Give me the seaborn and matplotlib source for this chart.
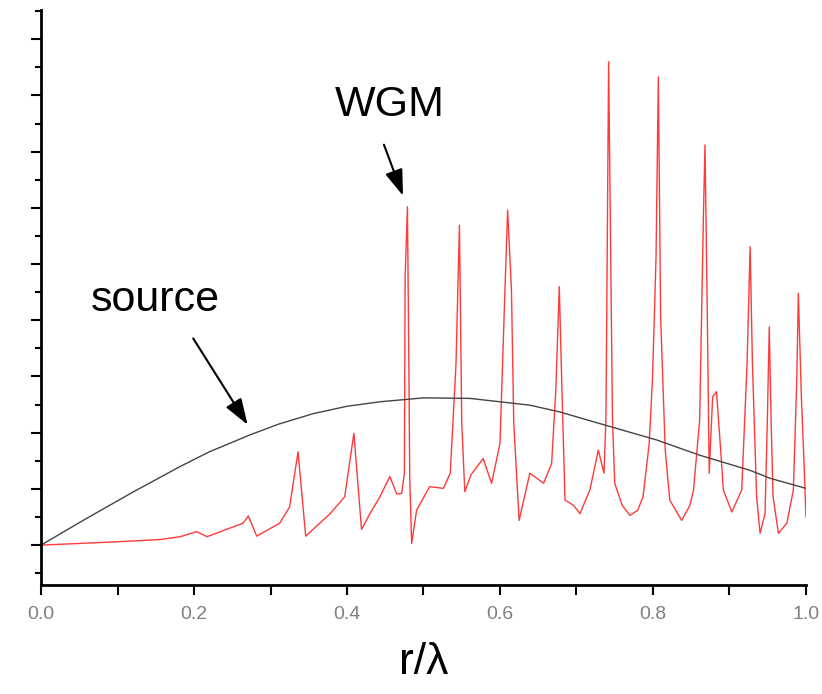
import matplotlib
matplotlib.use("Agg")
import matplotlib.pyplot as plt
import seaborn as sns
import pandas as pd
from matplotlib.ticker import MultipleLocator

# ---- data ----
wgm_x = [0.000, 0.050, 0.100, 0.156, 0.182, 0.2035, 0.217, 0.264, 0.271, 0.282,
         0.312, 0.325, 0.336, 0.346, 0.378, 0.397, 0.409, 0.419, 0.430, 0.443,
         0.456, 0.465, 0.4715, 0.475, 0.476, 0.479, 0.481, 0.482, 0.4845, 0.491,
         0.508, 0.526, 0.535, 0.5425, 0.547, 0.550, 0.554, 0.562, 0.578, 0.589,
         0.600, 0.6065, 0.610, 0.615, 0.618, 0.625, 0.639, 0.657, 0.6675, 0.673,
         0.6775, 0.681, 0.685, 0.696, 0.7045, 0.7175, 0.7285, 0.736, 0.7385, 0.740,
         0.742, 0.745, 0.747, 0.750, 0.760, 0.770, 0.780, 0.787, 0.795, 0.7995,
         0.804, 0.807, 0.810, 0.816, 0.822, 0.8375, 0.848, 0.853, 0.861, 0.866,
         0.868, 0.871, 0.8735, 0.878, 0.883, 0.8885, 0.892, 0.903, 0.916, 0.923,
         0.927, 0.930, 0.9355, 0.940, 0.9465, 0.9495, 0.952, 0.9545, 0.957, 0.964,
         0.975, 0.9835, 0.988, 0.990, 0.994, 0.9975, 1.000]
wgm_y = [0.00, 0.03, 0.06, 0.10, 0.15, 0.24, 0.15, 0.39, 0.52, 0.16,
         0.39, 0.68, 1.66, 0.16, 0.56, 0.86, 1.99, 0.28, 0.56, 0.86,
         1.22, 0.91, 0.92, 1.28, 4.77, 6.02, 3.00, 1.22, 0.03, 0.62,
         1.04, 1.01, 1.28, 3.23, 5.69, 2.17, 0.95, 1.25, 1.54, 1.10,
         1.81, 4.54, 5.96, 4.54, 2.17, 0.44, 1.28, 1.10, 1.45, 2.76,
         4.60, 2.76, 0.80, 0.71, 0.56, 0.98, 1.69, 1.28, 2.28, 4.89,
         8.60, 4.83, 2.28, 1.10, 0.70, 0.53, 0.62, 0.86, 1.80, 3.00,
         5.13, 8.33, 4.06, 1.69, 0.80, 0.44, 0.70, 0.98, 2.22, 5.90,
         7.12, 4.12, 1.28, 2.64, 2.73, 1.69, 0.98, 0.59, 0.98, 3.23,
         5.31, 3.23, 0.86, 0.21, 0.56, 2.22, 3.88, 2.17, 0.86, 0.21,
         0.39, 0.98, 2.94, 4.48, 2.64, 1.45, 0.50]

source_x = [0.0, 0.055, 0.121, 0.182, 0.22, 0.273, 0.31, 0.356, 0.40, 0.443,
            0.50, 0.561, 0.639, 0.678, 0.7285, 0.805, 0.861, 0.927, 0.953, 1.0]
source_y = [0.0, 0.44, 0.95, 1.40, 1.66, 1.96, 2.15, 2.34, 2.47, 2.55,
            2.62, 2.61, 2.49, 2.37, 2.17, 1.87, 1.60, 1.33, 1.19, 1.01]

x_ticks = [0.0, 0.2, 0.4, 0.6, 0.8, 1.0]
x_tick_labels = ["0.0", "0.2", "0.4", "0.6", "0.8", "1.0"]

# ---- plotting ----
sns.set_style("white")
plt.rcParams['font.family'] = ['Liberation Sans', 'DejaVu Sans']

fig = plt.figure(figsize=(8.22, 6.94), dpi=100)
ax = fig.add_axes([0.0499, 0.157, 0.9306, 0.8286])

df_w = pd.DataFrame({"x": wgm_x, "y": wgm_y})
df_s = pd.DataFrame({"x": source_x, "y": source_y})
sns.lineplot(data=df_w, x="x", y="y", ax=ax, color="#ff3a3a", lw=1.0,
             estimator=None, sort=False)
sns.lineplot(data=df_s, x="x", y="y", ax=ax, color="#444444", lw=1.0,
             estimator=None, sort=False)

ax.set_xlim(0, 1.0)
ax.set_ylim(-0.71, 9.52)

for s in ["top", "right"]:
    ax.spines[s].set_visible(False)
for s in ["left", "bottom"]:
    ax.spines[s].set_color("black")
    ax.spines[s].set_linewidth(2.0)

ax.set_xticks(x_ticks)
ax.set_xticklabels(x_tick_labels)
ax.xaxis.set_minor_locator(MultipleLocator(0.1))
ax.yaxis.set_major_locator(MultipleLocator(1.0))
ax.yaxis.set_minor_locator(MultipleLocator(0.5))
ax.set_yticklabels([])
ax.tick_params(axis="x", which="both", direction="out", length=7, width=1.5,
               color="black", labelsize=14, labelcolor="#808080", pad=8,
               bottom=True)
ax.tick_params(axis="y", which="major", direction="out", length=7, width=1.5,
               color="black", left=True)
ax.tick_params(axis="y", which="minor", direction="out", length=4, width=1.5,
               color="black", left=True)

ax.set_xlabel("r/λ", fontsize=32, labelpad=14, color="black")
ax.set_ylabel("")
ax.grid(False)

arrow_style = "-|>,head_length=1.6,head_width=0.55"
ax.text(0.456, 7.83, "WGM", fontsize=31, ha="center", va="center", color="black")
ax.annotate("", xy=(0.4745, 6.17), xytext=(0.447, 7.17),
            arrowprops=dict(arrowstyle=arrow_style, color="black", lw=1.5))
ax.text(0.149, 4.36, "source", fontsize=31, ha="center", va="center", color="black")
ax.annotate("", xy=(0.272, 2.10), xytext=(0.197, 3.72),
            arrowprops=dict(arrowstyle=arrow_style, color="black", lw=1.5))

fig.savefig("out.png", dpi=100)
